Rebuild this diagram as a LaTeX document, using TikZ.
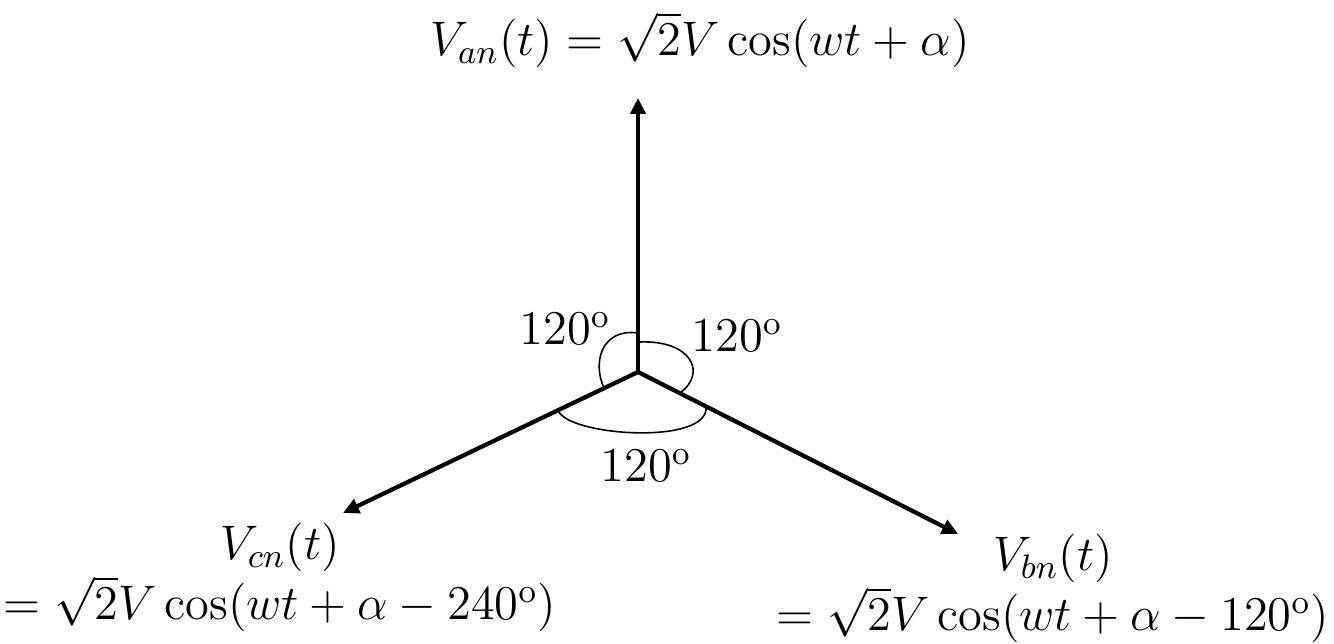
\documentclass[tikz,border=0pt]{standalone}
\usepackage{fix-cm}
\usepackage{amsmath}
\usepackage{amssymb}
\usepackage{tikz}
\usetikzlibrary{arrows.meta,positioning,calc}

\begin{document}
\begin{tikzpicture}[>={Triangle[length=1.6mm,width=1.5mm]},
   font=\fontsize{13.8}{16.6}\selectfont,
   phasor/.style={->,line width=1.2pt},
   angarc/.style={line width=0.45pt},
   anglab/.style={anchor=base,inner sep=0pt},
   eqlab/.style={inner sep=0pt}]
  \useasboundingbox (0,0) rectangle (13.34,6.44);
  \coordinate (o) at (6.38,2.72);
  \coordinate (a) at (6.38,5.46);
  \coordinate (b) at (9.58,1.10);
  \coordinate (c) at (3.43,1.31);
  \draw[phasor] (o)--(a);
  \draw[phasor] (o)--(b);
  \draw[phasor] (o)--(c);
  % angle marks
  \draw[angarc] ($(o)+(0,0.39)$) .. controls ($(o)+(-0.36,0.44)$) and ($(o)+(-0.46,0.10)$) .. ($(o)+(-0.34,-0.16)$);
  \draw[angarc] ($(o)+(0.02,0.30)$) .. controls ($(o)+(0.52,0.32)$) and ($(o)+(0.70,0)$) .. ($(o)+(0.42,-0.21)$);
  \draw[angarc] ($(o)+(-0.80,-0.38)$) .. controls ($(o)+(-0.72,-0.64)$) and ($(o)+(0.72,-0.74)$) .. ($(o)+(0.68,-0.345)$);
  \node[anglab] (l1) at (5.65,2.99) {$120^{\mathrm{o}}$};
  \node[anglab] (l2) at (7.37,2.92) {$120^{\mathrm{o}}$};
  \node[anglab] (l3) at (6.46,1.62) {$120^{\mathrm{o}}$};
  % phase voltages
  \node[eqlab,anchor=base] (van) at (7.00,5.88) {$V_{an}(t)=\sqrt{2}V\cos(wt+\alpha)$};
  \node[eqlab,anchor=base west] (vcn2) at (0.03,0.24) {$=\sqrt{2}V\cos(wt+\alpha-240^{\mathrm{o}})$};
  \node[eqlab,anchor=base] (vcn) at ($(vcn2.base)+(0,0.6)$) {$V_{cn}(t)$};
  \node[eqlab,anchor=base east] (vbn2) at (13.30,0.13) {$=\sqrt{2}V\cos(wt+\alpha-120^{\mathrm{o}})$};
  \node[eqlab,anchor=base] (vbn) at ($(vbn2.base)+(0,0.6)$) {$V_{bn}(t)$};
\end{tikzpicture}
\end{document}
